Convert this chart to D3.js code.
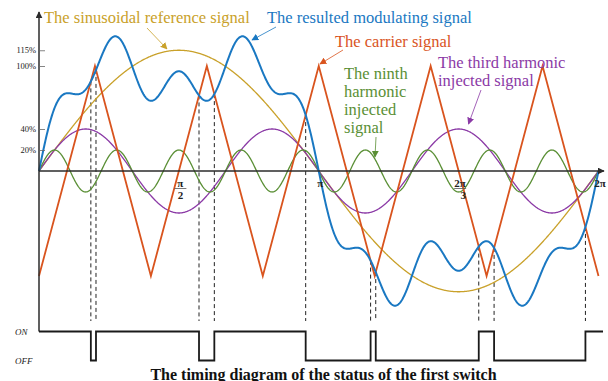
<!DOCTYPE html>
<html>
<head>
<meta charset="utf-8">
<script src="https://cdn.jsdelivr.net/npm/d3@7"></script>
<style>
  html, body { margin: 0; padding: 0; background: #fff; }
  svg { display: block; font-family: "Liberation Serif", "Times New Roman", serif; }
</style>
</head>
<body>
<svg id="chart" width="608" height="381"></svg>
<script>
// Signal components (percent of carrier peak) and their harmonic orders
const harmonicOrders = [1, 3, 9];
const harmonicAmplitudes = [115, 40, 20];

// Triangular carrier: vertices at multiples of pi/5, swinging between -100% and +100%
const carrierVertexSteps = [0, 1, 2, 3, 4, 5, 6, 7, 8, 9, 10];
const carrierVertexLevels = [-100, 100, -100, 100, -100, 100, -100, 100, -100, 100, -100];

// Axis ticks
const yTickValues = [20, 40, 100, 115];
const yTickLabels = ["20%", "40%", "100%", "115%"];
const xTickValues = [Math.PI / 2, Math.PI, 3 * Math.PI / 2, 2 * Math.PI];
const xTickNumerators = ["\u03c0", "\u03c0", "2\u03c0", "2\u03c0"];
const xTickDenominators = ["2", "", "3", ""];

// Switch states
const switchStates = ["ON", "OFF"];

const colors = {
  reference: "#c9a12a",
  modulating: "#1a78c2",
  carrier: "#d9541e",
  third: "#8b3aa6",
  ninth: "#5a8f35",
  axis: "#2b2b2b"
};

const svg = d3.select("#chart");

const x = d3.scaleLinear().domain([0, 2 * Math.PI]).range([39, 598.5]);
const y = d3.scaleLinear().domain([-100, 100]).range([276, 66]);
const yState = d3.scalePoint().domain(switchStates).range([331.5, 360.5]);

const carrier = d3.scaleLinear()
  .domain(carrierVertexSteps.map(k => k * Math.PI / 5))
  .range(carrierVertexLevels);

const component = (i, t) => harmonicAmplitudes[i] * Math.sin(harmonicOrders[i] * t);
const modulating = t => harmonicOrders.reduce((s, _, i) => s + component(i, t), 0);

const N = 1200;
const thetas = d3.range(N + 1).map(i => i / N * 2 * Math.PI);

const line = d3.line().x(d => x(d[0])).y(d => y(d[1]));

// Arrow heads
const defs = svg.append("defs");
Object.entries(colors).forEach(([k, c]) => {
  defs.append("marker")
    .attr("id", "head-" + k)
    .attr("viewBox", "0 0 10 10")
    .attr("refX", 9).attr("refY", 5)
    .attr("markerWidth", 7).attr("markerHeight", 7)
    .attr("markerUnits", "userSpaceOnUse")
    .attr("orient", "auto")
    .append("path").attr("d", "M0,0 L10,5 L0,10 Z").attr("fill", c);
});

// Crossings of the modulating signal with the carrier -> switching instants
const diff = t => modulating(t) - carrier(t);
const fine = 8000;
const crossings = [];
let prevT = 0, prevD = diff(0);
for (let i = 1; i <= fine; i++) {
  const t = i / fine * 2 * Math.PI;
  const d = diff(t);
  if ((prevD < 0 && d >= 0) || (prevD >= 0 && d < 0)) {
    const tc = prevT + (t - prevT) * (prevD / (prevD - d));
    if (tc > 1e-6 && tc < 2 * Math.PI - 1e-6) crossings.push(tc);
  }
  prevT = t; prevD = d;
}

// Dashed projection lines
svg.append("g").selectAll("line").data(crossings).join("line")
  .attr("x1", t => x(t)).attr("x2", t => x(t))
  .attr("y1", t => y(modulating(t))).attr("y2", 321)
  .attr("stroke", "#222").attr("stroke-width", 1)
  .attr("stroke-dasharray", "4,3");

// Harmonic components: reference, third, ninth
const compKeys = ["reference", "third", "ninth"];
svg.append("g").selectAll("path").data([0, 1, 2]).join("path")
  .attr("d", i => line(thetas.map(t => [t, component(i, t)])))
  .attr("fill", "none")
  .attr("stroke", i => colors[compKeys[i]])
  .attr("stroke-width", 1.3);

// Carrier
svg.append("path")
  .attr("d", line(carrierVertexSteps.map((k, i) => [k * Math.PI / 5, carrierVertexLevels[i]])))
  .attr("fill", "none").attr("stroke", colors.carrier).attr("stroke-width", 1.8)
  .attr("stroke-linejoin", "miter");

// Resulting modulating signal
svg.append("path")
  .attr("d", line(thetas.map(t => [t, modulating(t)])))
  .attr("fill", "none").attr("stroke", colors.modulating).attr("stroke-width", 2);

// Axes
svg.append("line")
  .attr("x1", x(0)).attr("x2", 604).attr("y1", y(0)).attr("y2", y(0))
  .attr("stroke", colors.axis).attr("stroke-width", 1.5)
  .attr("marker-end", "url(#head-axis)");
svg.append("line")
  .attr("x1", x(0)).attr("x2", x(0)).attr("y1", yState("ON")).attr("y2", 12)
  .attr("stroke", colors.axis).attr("stroke-width", 1.5)
  .attr("marker-end", "url(#head-axis)");

const yAxis = d3.axisLeft(y)
  .tickValues(yTickValues)
  .tickFormat((d, i) => yTickLabels[i])
  .tickSizeInner(-6).tickSizeOuter(0).tickPadding(3);
const yg = svg.append("g").attr("transform", `translate(${x(0)},0)`).call(yAxis);
yg.select(".domain").remove();
yg.selectAll(".tick line").attr("stroke", "#666").attr("stroke-width", 0.8);
yg.selectAll(".tick text")
  .attr("font-family", "Liberation Serif, serif").attr("font-size", 8.5).attr("fill", "#222");

// x tick labels (fractions of pi)
const xl = svg.append("g").attr("font-weight", "bold").attr("font-size", 11)
  .attr("text-anchor", "middle").attr("fill", "#222");
xTickValues.forEach((v, i) => {
  const cx = x(v) + 1.5;
  xl.append("text").attr("x", cx).attr("y", 187).text(xTickNumerators[i]);
  if (xTickDenominators[i]) {
    xl.append("line").attr("x1", cx - 6).attr("x2", cx + 6)
      .attr("y1", 188.5).attr("y2", 188.5).attr("stroke", "#555").attr("stroke-width", 0.8);
    xl.append("text").attr("x", cx + (i === 2 ? 3 : 0)).attr("y", 199).text(xTickDenominators[i]);
  }
});

// Switch status waveform
const edges = [0, ...crossings, 2 * Math.PI];
const sw = [];
let state = diff(1e-4) >= 0 ? "ON" : "OFF";
for (let i = 0; i < edges.length - 1; i++) {
  sw.push([x(edges[i]), yState(state)]);
  sw.push([x(edges[i + 1]), yState(state)]);
  state = state === "ON" ? "OFF" : "ON";
}
sw[sw.length - 1][0] = 603;
svg.append("path")
  .attr("d", d3.line()(sw))
  .attr("fill", "none").attr("stroke", "#1a1a1a").attr("stroke-width", 1.8);

svg.append("g").selectAll("text").data(switchStates).join("text")
  .attr("x", 15).attr("y", d => yState(d) + 3)
  .attr("font-style", "italic").attr("font-size", 9).attr("fill", "#222")
  .text(d => d);

// Annotations
function note(lines, x0, baselines, color) {
  const t = svg.append("text").attr("font-size", 16.5).attr("fill", color);
  lines.forEach((s, i) => t.append("tspan").attr("x", x0).attr("y", baselines[i]).text(s));
}
function arrow(x1, y1, x2, y2, key) {
  svg.append("line").attr("x1", x1).attr("y1", y1).attr("x2", x2).attr("y2", y2)
    .attr("stroke", colors[key]).attr("stroke-width", 0.8)
    .attr("marker-end", `url(#head-${key})`);
}

note(["The sinusoidal reference signal"], 44, [22.5], colors.reference);
note(["The resulted modulating signal"], 267, [22.5], colors.modulating);
note(["The carrier signal"], 335, [46.7], colors.carrier);
note(["The ninth", "harmonic", "injected", "signal"], 344, [78.5, 96.8, 115.1, 133.4], colors.ninth);
note(["The third harmonic", "injected signal"], 438, [67.5, 85.5], colors.third);

arrow(147, 28, 167, 49, "reference");
arrow(276, 27, 252, 40, "modulating");
arrow(343, 50, 320, 64, "carrier");
arrow(376, 137, 375, 157, "ninth");
arrow(481, 90, 468.5, 124, "third");

// Title
svg.append("text")
  .attr("x", 323.5).attr("y", 379.5)
  .attr("text-anchor", "middle").attr("font-weight", "bold").attr("font-size", 16)
  .attr("fill", "#111")
  .text("The timing diagram of the status of the first switch");
</script>
</body>
</html>
